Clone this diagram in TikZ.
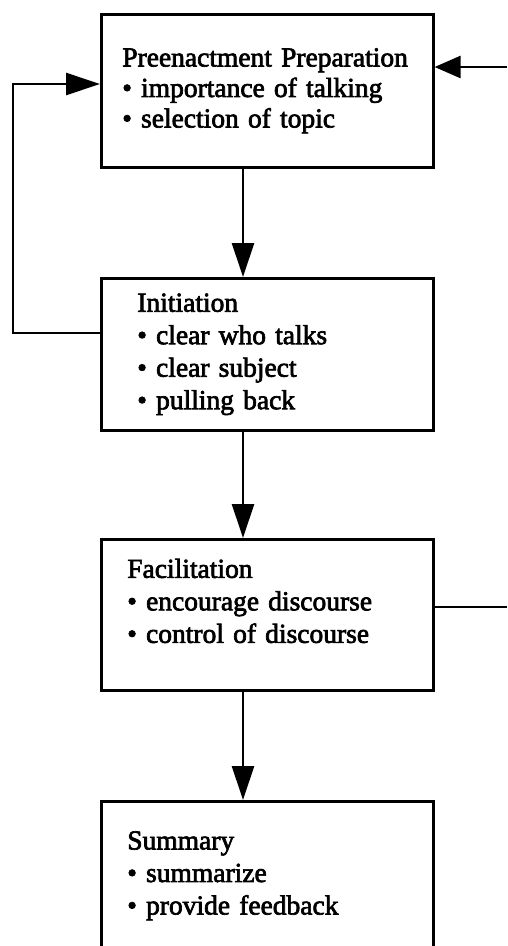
\documentclass[tikz,border=0pt]{standalone}
\usepackage{fontspec}
\setmainfont[FakeBold=2.5,WordSpace=0.8]{Liberation Serif}
\usepackage{tikz}
\usetikzlibrary{arrows.meta}

\begin{document}
\begin{tikzpicture}[x=1pt,y=-1pt]
	 \tikzstyle{stage}=[draw,line width=2.6pt,rectangle,anchor=north west,align=left,minimum height=152pt,inner ysep=0pt,font=\fontsize{27.5}{32.5}\selectfont]
	 \tikzstyle{flow} = [draw,line width=2.6pt,-{Triangle[length=34pt,width=22pt]},black]
	 \tikzstyle{short flow} = [draw,line width=2.6pt,-{Triangle[length=26pt,width=22pt]},black]
	 \tikzstyle{edge} = [draw,line width=2.6pt,-,black]
	 \useasboundingbox (0,0) rectangle (507,946);
	 \clip (0,0) rectangle (507,946);
	 \coordinate (spine) at (243,0);
	 \coordinate (in) at (507,67);
	 \coordinate (out) at (507,607);
	 \coordinate (back low) at (13,333);
	 \coordinate (back high) at (13,84);
	 \node[stage,inner xsep=21pt,text width=290pt,minimum height=153pt,font=\fontsize{27.5}{30.5}\selectfont] (prep) at (100,13) {Preenactment Preparation\\• importance of talking\\• selection of topic};
	 \node[stage,inner xsep=36pt,text width=260pt] (init) at (100,277) {Initiation\\• clear who talks\\• clear subject\\• pulling back};
	 \node[stage,inner xsep=26pt,text width=280pt,minimum height=151pt,text depth=93pt] (facil) at (100,538) {Facilitation\\• encourage discourse\\• control of discourse};
	 \node[stage,inner xsep=26pt,text width=280pt,minimum height=149pt] (summ) at (100,800) {Summary\\• summarize\\• provide feedback};
	 \draw[flow] (prep.south -| spine) -- (init.north -| spine);
	 \draw[flow] (init.south -| spine) -- (facil.north -| spine);
	 \draw[flow] (facil.south -| spine) -- (summ.north -| spine);
	 \draw[flow] (back low -| init.west) -- (back low) -- (back high) -- (back high -| prep.west);
	 \draw[short flow] (in) -- (in -| prep.east);
	 \draw[edge] (out -| facil.east) -- (out);
\end{tikzpicture}
\end{document}
